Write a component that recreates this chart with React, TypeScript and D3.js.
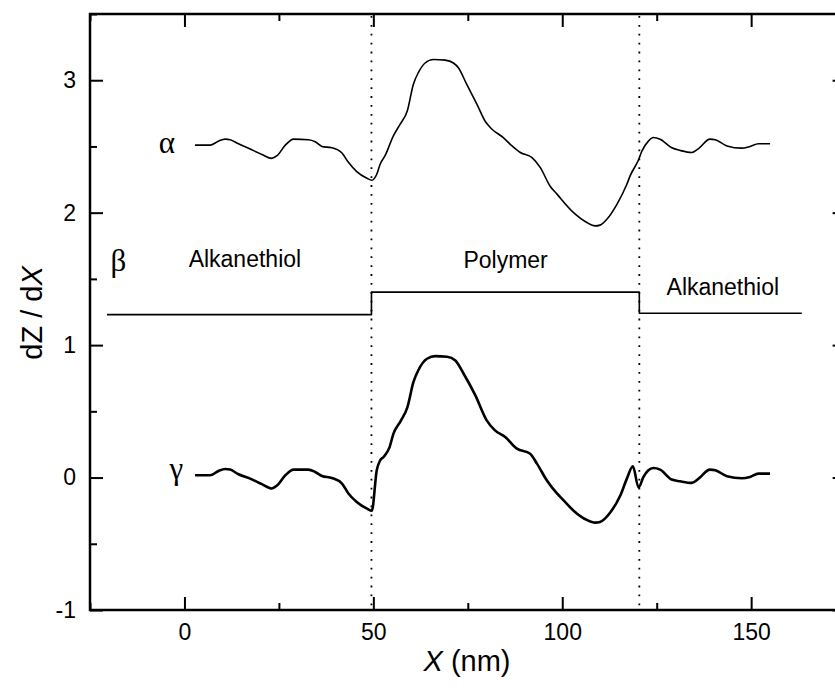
import React from "react";
import * as d3 from "d3";

const W = 835;
const H = 693;
const margin = { top: 14, left: 90, bottom: 83 };
const rightEdge = 845.6; // the frame's right side is cut off by the picture

const xDomain = [-25, 175];
const yDomain = [-1, 3.5];
const xMajor = [0, 50, 100, 150];
const xMinor = [-25, 25, 75, 125, 175];
const yMajor = [-1, 0, 1, 2, 3];
const yMinor = [-0.5, 0.5, 1.5, 2.5, 3.5];

// boundaries between alkanethiol and polymer
const boundaries = [49.5, 120.4];

// curve alpha
const alphaX = [2.8, 6.8, 9.0, 10.8, 12.1, 14.3, 17.4, 20.5, 23.1, 24.5, 26.7, 28.9, 32.8, 34.6, 36.4, 39.0, 41.7, 43.4, 45.6, 48.3, 49.6, 50.9, 51.8, 53.1, 55.3, 57.1, 59.0, 60.6, 61.9, 63.7, 65.9, 69.0, 71.2, 72.5, 74.7, 77.4, 79.6, 81.4, 84.4, 86.7, 88.9, 92.0, 94.2, 96.8, 98.6, 103.0, 106.5, 108.7, 110.0, 111.8, 114.5, 117.1, 118.0, 120.2, 121.1, 122.8, 124.1, 125.9, 129.0, 131.2, 134.3, 136.1, 139.1, 140.5, 143.6, 147.5, 149.7, 151.9, 155.0];
const alphaY = [2.51, 2.51, 2.54, 2.555, 2.55, 2.52, 2.48, 2.44, 2.41, 2.43, 2.51, 2.555, 2.55, 2.535, 2.5, 2.49, 2.45, 2.38, 2.31, 2.26, 2.245, 2.29, 2.366, 2.43, 2.58, 2.668, 2.77, 2.97, 3.057, 3.13, 3.157, 3.152, 3.13, 3.094, 2.97, 2.82, 2.69, 2.63, 2.567, 2.504, 2.454, 2.416, 2.34, 2.2, 2.14, 2.0, 1.926, 1.9, 1.906, 1.95, 2.065, 2.215, 2.28, 2.4, 2.466, 2.54, 2.567, 2.555, 2.49, 2.47, 2.454, 2.484, 2.555, 2.55, 2.504, 2.487, 2.5, 2.52, 2.52];

// step profile beta
const betaX = [-20.5, 49.5, 120.4, 163.4];
const betaY = [1.23, 1.4, 1.24, 1.24];

// curve gamma
const gammaX = [2.8, 6.8, 9.0, 10.8, 12.1, 14.3, 17.4, 20.5, 23.1, 24.5, 26.7, 28.9, 32.8, 34.6, 36.4, 39.0, 41.7, 43.4, 45.6, 48.3, 49.6, 50.9, 51.8, 52.7, 54.3, 55.3, 57.3, 59.0, 60.6, 61.9, 64.2, 66.4, 69.5, 71.7, 73.9, 77.0, 80.0, 82.2, 84.9, 88.0, 91.5, 93.3, 95.9, 98.6, 100.3, 103.0, 106.5, 108.7, 110.0, 112.8, 115.4, 117.1, 118.7, 120.2, 121.5, 122.8, 124.1, 125.9, 129.0, 131.2, 134.3, 136.1, 139.1, 140.5, 143.6, 147.5, 149.7, 151.9, 155.0];
const gammaY = [0.017, 0.017, 0.05, 0.065, 0.06, 0.025, -0.008, -0.05, -0.083, -0.06, 0.017, 0.06, 0.06, 0.042, 0.012, -0.003, -0.045, -0.12, -0.184, -0.234, -0.25, 0.055, 0.13, 0.155, 0.23, 0.33, 0.43, 0.53, 0.72, 0.81, 0.897, 0.917, 0.912, 0.884, 0.784, 0.62, 0.432, 0.356, 0.306, 0.218, 0.18, 0.105, -0.02, -0.12, -0.17, -0.25, -0.32, -0.34, -0.335, -0.26, -0.134, -0.008, 0.085, -0.075, 0.005, 0.055, 0.072, 0.06, -0.015, -0.028, -0.04, -0.008, 0.06, 0.055, 0.01, -0.005, 0.005, 0.03, 0.03];

// text labels in data coordinates
const labels = [
  { text: "α", x: -2.5, y: 2.45, anchor: "end", serif: true },
  { text: "β", x: -17.5, y: 1.56, anchor: "middle", serif: true },
  { text: "γ", x: -0.3, y: -0.01, anchor: "end", serif: true },
  { text: "Alkanethiol", x: 16, y: 1.59, anchor: "middle", serif: false },
  { text: "Polymer", x: 85, y: 1.58, anchor: "middle", serif: false },
  { text: "Alkanethiol", x: 142.5, y: 1.38, anchor: "middle", serif: false },
];

const SANS = "'Liberation Sans', Arial, Helvetica, sans-serif";
const SERIF = "'Liberation Serif', 'Times New Roman', serif";

function App() {
  const ref = React.useRef<SVGSVGElement>(null);

  React.useEffect(() => {
    const svg = d3.select(ref.current);
    svg.selectAll("*").remove();

    const x = d3.scaleLinear().domain(xDomain).range([margin.left, rightEdge]);
    const y = d3
      .scaleLinear()
      .domain(yDomain)
      .range([H - margin.bottom, margin.top]);

    const x0 = margin.left,
      y0 = H - margin.bottom,
      y1 = margin.top;

    const styleAxis = (g) => {
      g.select(".domain").remove();
      g.selectAll(".tick line").attr("stroke", "#000").attr("stroke-width", 2);
      g.selectAll(".tick text")
        .attr("fill", "#000")
        .style("font-family", SANS)
        .style("font-size", "23px");
    };
    const plain = (d) => String(d);
    const none = () => "";

    // bottom
    svg
      .append("g")
      .attr("transform", `translate(0,${y0})`)
      .call(d3.axisBottom(x).tickValues(xMajor).tickSize(-13).tickPadding(14).tickFormat(plain))
      .call(styleAxis);
    svg
      .append("g")
      .attr("transform", `translate(0,${y0})`)
      .call(d3.axisBottom(x).tickValues(xMinor).tickSize(-7).tickFormat(none))
      .call(styleAxis);
    // top
    svg
      .append("g")
      .attr("transform", `translate(0,${y1})`)
      .call(d3.axisTop(x).tickValues(xMajor).tickSize(-13).tickFormat(none))
      .call(styleAxis);
    svg
      .append("g")
      .attr("transform", `translate(0,${y1})`)
      .call(d3.axisTop(x).tickValues(xMinor).tickSize(-7).tickFormat(none))
      .call(styleAxis);
    // left
    svg
      .append("g")
      .attr("transform", `translate(${x0},0)`)
      .call(d3.axisLeft(y).tickValues(yMajor).tickSize(-13).tickPadding(14).tickFormat(plain))
      .call(styleAxis);
    svg
      .append("g")
      .attr("transform", `translate(${x0},0)`)
      .call(d3.axisLeft(y).tickValues(yMinor).tickSize(-7).tickFormat(none))
      .call(styleAxis);
    // right
    svg
      .append("g")
      .attr("transform", `translate(${rightEdge},0)`)
      .call(d3.axisRight(y).tickValues(yMajor).tickSize(-13).tickFormat(none))
      .call(styleAxis);
    svg
      .append("g")
      .attr("transform", `translate(${rightEdge},0)`)
      .call(d3.axisRight(y).tickValues(yMinor).tickSize(-7).tickFormat(none))
      .call(styleAxis);

    // frame
    svg
      .append("rect")
      .attr("x", x0)
      .attr("y", y1)
      .attr("width", rightEdge - x0)
      .attr("height", y0 - y1)
      .attr("fill", "none")
      .attr("stroke", "#000")
      .attr("stroke-width", 2.5);

    // dotted boundaries
    svg
      .selectAll("line.boundary")
      .data(boundaries)
      .join("line")
      .attr("class", "boundary")
      .attr("x1", (d) => x(d))
      .attr("x2", (d) => x(d))
      .attr("y1", y1 + 2)
      .attr("y2", y0 - 2)
      .attr("stroke", "#000")
      .attr("stroke-width", 1.8)
      .attr("stroke-dasharray", "1.8 7.1");

    const line = d3.line<number>();

    const curve = (xs, ys, width, curveType = d3.curveMonotoneX) =>
      svg
        .append("path")
        .attr(
          "d",
          line
            .curve(curveType)
            .x((_, i) => x(xs[i]))
            .y((d) => y(d))(ys)
        )
        .attr("fill", "none")
        .attr("stroke", "#000")
        .attr("stroke-width", width)
        .attr("stroke-linejoin", "round")
        .attr("stroke-linecap", "butt");

    curve(alphaX, alphaY, 1.6);
    curve(betaX, betaY, 1.6, d3.curveStepAfter);
    curve(gammaX, gammaY, 2.6);

    // annotations
    svg
      .selectAll("text.note")
      .data(labels)
      .join("text")
      .attr("class", "note")
      .attr("x", (d) => x(d.x))
      .attr("y", (d) => y(d.y))
      .attr("text-anchor", (d) => d.anchor)
      .style("font-family", (d) => (d.serif ? SERIF : SANS))
      .style("font-size", (d) => (d.serif ? "31px" : "23px"))
      .text((d) => d.text);

    // axis titles
    const xt = svg
      .append("text")
      .attr("x", 467)
      .attr("y", 671)
      .attr("text-anchor", "middle")
      .style("font-family", SANS)
      .style("font-size", "29px");
    xt.append("tspan").style("font-style", "italic").text("X");
    xt.append("tspan").text(" (nm)");

    const yt = svg
      .append("text")
      .attr("transform", `translate(42,313) rotate(-90)`)
      .attr("text-anchor", "middle")
      .style("font-family", SANS)
      .style("font-size", "29px");
    yt.append("tspan").text("dZ / d");
    yt.append("tspan").style("font-style", "italic").text("X");
  }, []);

  return (
    <div style={{ position: "absolute", left: 0, top: 0 }}>
      <svg ref={ref} width={W} height={H} style={{ display: "block", background: "#fff" }} />
    </div>
  );
}

export default App;
